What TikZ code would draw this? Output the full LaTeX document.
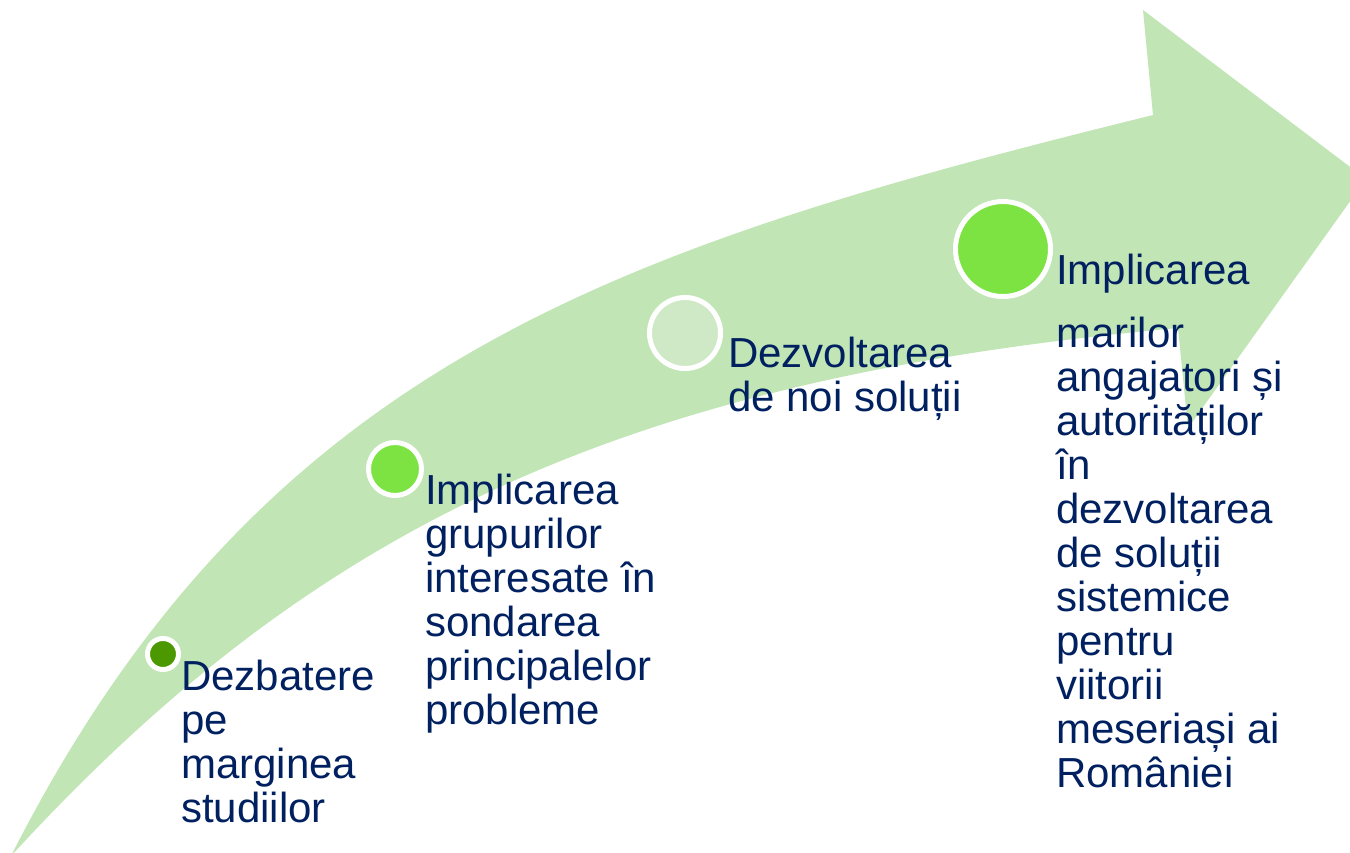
\documentclass[tikz,border=0pt]{standalone}
\usepackage{fontspec}
\setmainfont{Liberation Sans}
\definecolor{arrowgreen}{HTML}{C1E5B5}
\definecolor{darkdot}{HTML}{4B9800}
\definecolor{brightdot}{HTML}{7DE342}
\definecolor{paledot}{HTML}{CFE8C6}
\definecolor{navytext}{HTML}{002060}
\tikzset{
  dot/.style={circle, draw=white, line width=5pt, inner sep=0pt},
  label/.style={anchor=base west, inner sep=0pt, text=navytext,
    font=\fontsize{42}{44}\selectfont},
}
\newcommand{\lines}[1]{\parbox[t]{320pt}{\raggedright #1}}
\begin{document}
\begin{tikzpicture}[x=1pt,y=-1pt]
\useasboundingbox (0,0) rectangle (1350,852);
\begin{scope}
\clip (0,0) rectangle (1350,852);
\fill[arrowgreen] (11,856) .. controls (262,361) and (619,247) .. (1153,115)
  -- (1143,10) -- (1366,179) -- (1188,428) -- (1178,328)
  .. controls (630,378) and (318,521) .. (11,856) -- cycle;
\end{scope}
\node[dot, fill=darkdot, minimum size=31pt] (c1) at (163,654) {};
\node[dot, fill=brightdot, minimum size=53pt] (c2) at (395,469) {};
\node[dot, fill=paledot, minimum size=71pt] (c3) at (685,333) {};
\node[dot, fill=brightdot, minimum size=95pt] (c4) at (1003,249) {};
\node[label] (t1) at (181,690) {\lines{Dezbatere\\pe\\marginea\\studiilor}};
\node[label] (t2) at (425,504) {\lines{Implicarea\\grupurilor\\interesate în\\sondarea\\principalelor\\probleme}};
\node[label] (t3) at (728,367) {\lines{Dezvoltarea\\de noi soluții}};
\node[label] (t4) at (1056,284) {\lines{Implicarea\\[19pt]marilor\\angajatori și\\autorităților\\în\\dezvoltarea\\de soluții\\sistemice\\pentru\\viitorii\\meseriași ai\\României}};
\end{tikzpicture}
\end{document}
